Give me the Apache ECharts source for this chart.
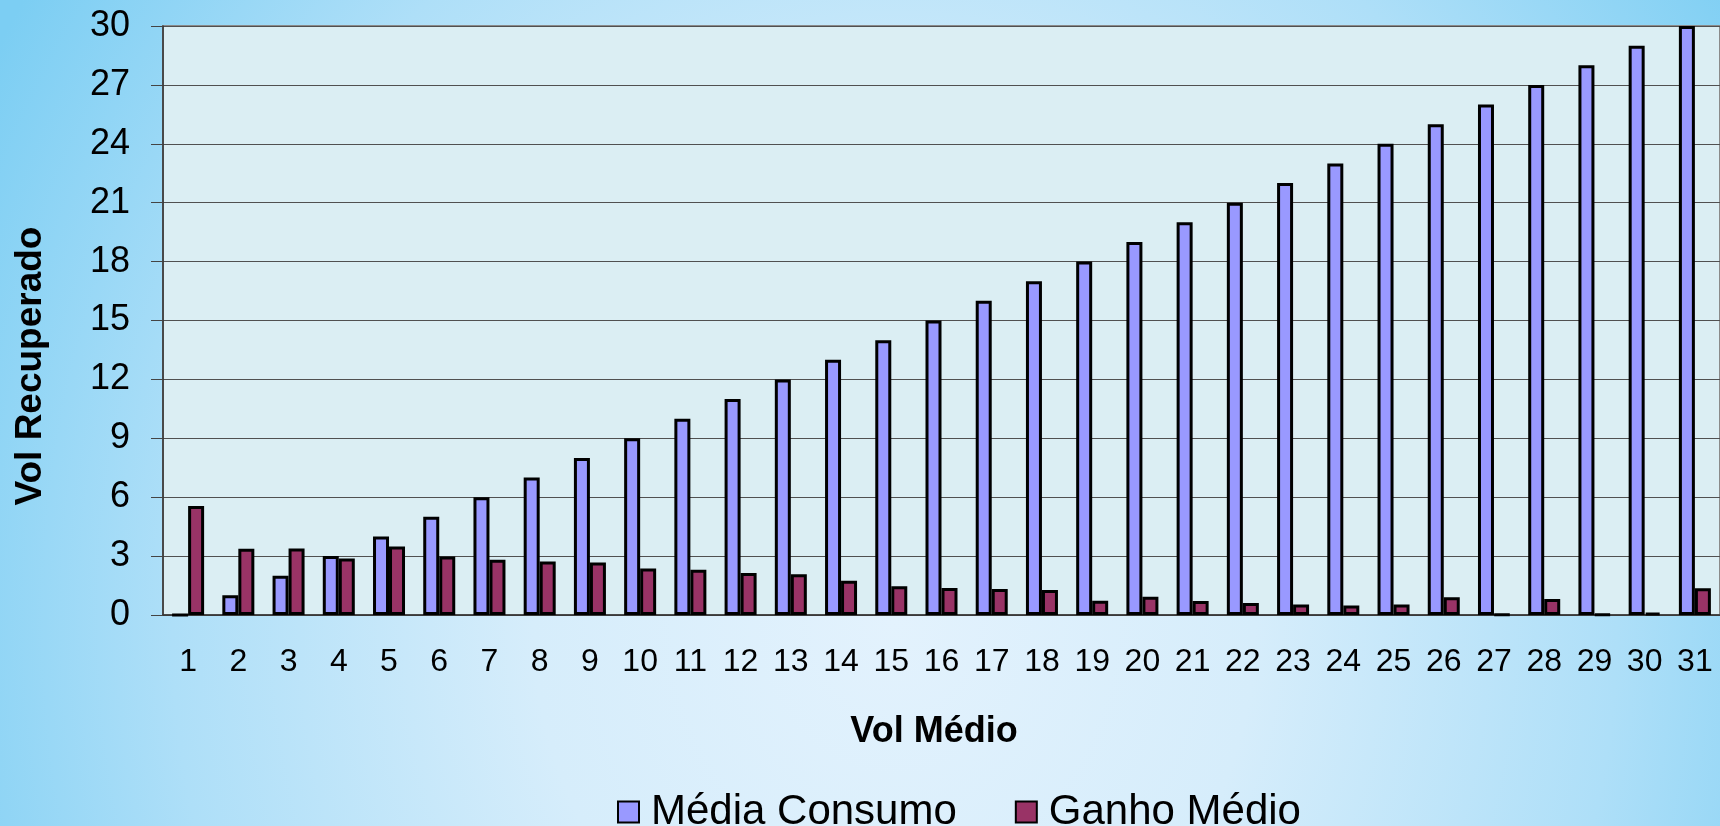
<html>
<head>
<meta charset="utf-8">
<title>Vol Recuperado x Vol Médio</title>
<script src="https://cdn.jsdelivr.net/npm/echarts@6/dist/echarts.min.js"></script>
<style>
	html, body { margin: 0; padding: 0; }
	body {
		width: 1720px; height: 826px; overflow: hidden;
		background: radial-gradient(ellipse 60% 140% at 52% 75%, #E3F2FD 0%, #D6EDFB 35%, #AEDFF8 70%, #7CCEF3 100%);
	}
</style>
</head>
<body>
	<div id="main" style="width: 1720px; height: 826px;"></div>
	<script type="text/javascript">
		// dados
		var categorias = ['1','2','3','4','5','6','7','8','9','10','11','12','13','14','15','16',
			'17','18','19','20','21','22','23','24','25','26','27','28','29','30','31'];
		var mediaConsumo = [0, 1, 2, 3, 4, 5, 6, 7, 8, 9, 10, 11, 12, 13, 14, 15,
			16, 17, 18, 19, 20, 21, 22, 23, 24, 25, 26, 27, 28, 29, 30];
		var ganhoMedio = [5.55, 3.38, 3.39, 2.88, 3.49, 2.98, 2.81, 2.73, 2.68, 2.37, 2.31, 2.14, 2.08, 1.75, 1.47, 1.37,
			1.32, 1.27, 0.73, 0.93, 0.71, 0.61, 0.53, 0.49, 0.54, 0.90, 0.02, 0.81, 0.03, 0.10, 1.36];
		var nomesSeries = ['Média Consumo', 'Ganho Médio'];
		var fonte = "'Liberation Sans', Arial, sans-serif";

		var myChart = echarts.init(document.getElementById('main'));

		myChart.setOption({
			animation: false,
			backgroundColor: 'transparent',
			color: ['#9999FF', '#993366'],
			textStyle: { fontFamily: fonte },
			grid: {
				left: 163,
				top: 26,
				width: 1564,
				height: 589,
				show: true,
				backgroundColor: '#DBEEF3',
				borderColor: '#8a8a8a',
				borderWidth: 2
			},
			legend: {
				data: nomesSeries,
				left: 612,
				top: 786,
				itemWidth: 21,
				itemHeight: 21,
				itemGap: 58,
				icon: 'rect',
				textStyle: {
					fontSize: 42,
					color: '#000',
					fontFamily: fonte,
					padding: [0, 0, 0, 7]
				}
			},
			xAxis: {
				type: 'category',
				data: categorias,
				boundaryGap: true,
				axisLine: { lineStyle: { color: '#333', width: 1.5 } },
				axisTick: { length: 9, lineStyle: { color: '#6f7f88', width: 1.5 } },
				axisLabel: { interval: 0, fontSize: 32, color: '#000', margin: 31, fontFamily: fonte },
				splitLine: { show: false }
			},
			yAxis: {
				type: 'value',
				min: 0,
				max: 30,
				interval: 3,
				axisLine: { show: true, lineStyle: { color: '#333', width: 1.5 } },
				axisTick: { show: true, length: 12, lineStyle: { color: '#444' } },
				axisLabel: { fontSize: 36, color: '#000', margin: 33, fontFamily: fonte },
				splitLine: { lineStyle: { color: '#505050', width: 1.2 } }
			},
			graphic: [
				{
					type: 'text',
					x: 934,
					y: 732,
					style: {
						text: 'Vol Médio',
						font: 'bold 36px ' + fonte,
						fill: '#000',
						align: 'center',
						verticalAlign: 'middle'
					}
				},
				{
					type: 'text',
					x: 31,
					y: 366,
					rotation: Math.PI / 2,
					style: {
						text: 'Vol Recuperado',
						font: 'bold 37px ' + fonte,
						fill: '#000',
						align: 'center',
						verticalAlign: 'middle'
					}
				}
			],
			series: [
				{
					name: nomesSeries[0],
					type: 'bar',
					data: mediaConsumo,
					barWidth: 16,
					barGap: '0%',
					itemStyle: { borderColor: '#000', borderWidth: 3 }
				},
				{
					name: nomesSeries[1],
					type: 'bar',
					data: ganhoMedio,
					barWidth: 16,
					barGap: '0%',
					itemStyle: { borderColor: '#000', borderWidth: 3 }
				}
			]
		});
	</script>
</body>
</html>
